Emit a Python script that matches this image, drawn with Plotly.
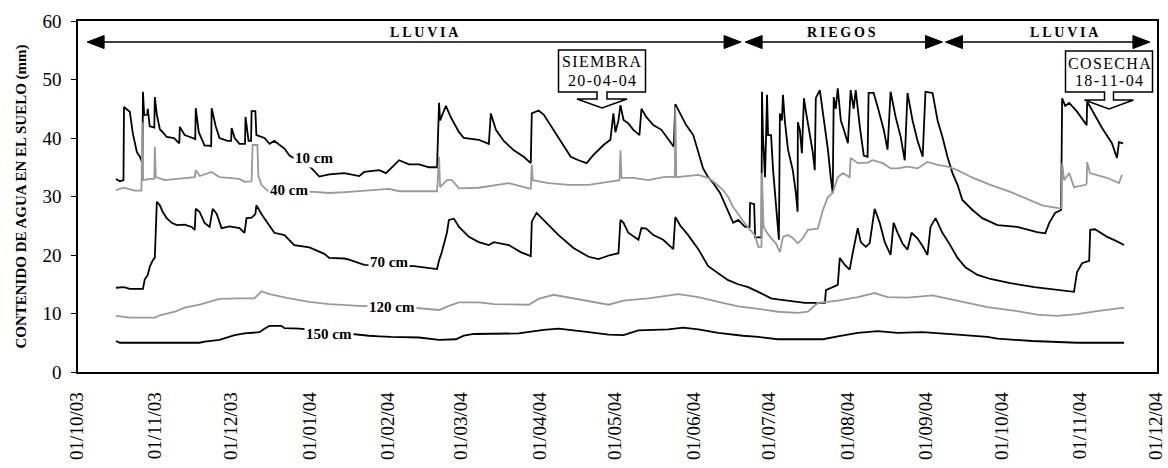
import pandas as pd
import plotly.graph_objects as go

# ---------------- data (days since 2003-10-01, soil water content in mm) ----------------
START = pd.Timestamp("2003-10-01")
END = pd.Timestamp("2004-12-01")

d10_days = [15.0, 16.6, 18.0, 18.2, 20.5, 21.7, 23.3, 24.5, 25.5, 25.7, 26.2, 27.4, 27.6, 28.4, 30.2, 30.4, 31.2,
            32.4, 33.5, 35.1, 38.0, 40.1, 40.3, 42.2, 45.4, 46.4, 46.6, 47.8, 50.1, 52.1, 52.7, 52.9, 54.5, 56.0,
            59.2, 60.6, 60.8, 62.0, 63.9, 66.1, 66.3, 67.5, 68.5, 68.7, 70.2, 70.6, 73.8, 75.8, 77.7, 81.7, 83.7,
            92.3, 95.5, 99.4, 105.4, 111.3, 113.3, 119.2, 121.9, 127.1, 131.0, 135.0, 138.9, 142.1, 142.9, 143.3,
            145.6, 147.6, 150.8, 152.7, 158.6, 162.6, 163.4, 165.4, 168.5, 172.5, 176.4, 179.2, 179.6, 182.3,
            184.3, 188.2, 192.2, 195.0, 198.1, 201.3, 204.0, 208.0, 210.7, 211.9, 212.7, 213.9, 214.7, 215.9,
            217.8, 219.8, 222.2, 223.0, 224.9, 227.7, 230.9, 233.6, 235.8, 236.4, 238.4, 240.7, 243.5, 245.5,
            247.4, 249.4, 251.4, 254.1, 256.5, 258.1, 259.3, 261.3, 264.0, 265.8, 266.0, 267.6, 268.0, 270.5,
            270.7, 271.1, 271.9, 272.3, 272.7, 273.1, 274.3, 275.1, 276.2, 277.0, 277.4, 277.8, 278.6, 279.0,
            279.8, 281.0, 282.9, 284.1, 284.8, 284.9, 285.7, 286.5, 287.3, 288.1, 289.7, 290.8, 291.6, 292.0,
            293.6, 295.2, 296.8, 297.9, 298.7, 299.1, 299.9, 300.7, 301.9, 303.1, 304.7, 305.8, 307.0, 307.8,
            309.4, 311.0, 312.5, 312.9, 314.9, 316.5, 318.9, 320.4, 321.6, 323.6, 325.6, 327.2, 328.3, 330.3,
            332.3, 334.3, 335.4, 338.2, 340.2, 342.1, 344.1, 346.1, 348.1, 350.0, 354.0, 357.9, 363.9, 371.7,
            379.6, 382.8, 384.4, 386.7, 389.1, 389.5, 390.7, 392.3, 393.4, 395.4, 399.2, 399.4, 401.3, 405.3,
            409.2, 411.2, 412.0, 413.6]
d10_vals = [33.0, 32.6, 32.8, 45.3, 44.5, 40.8, 37.6, 36.8, 35.7, 47.9, 43.9, 44.0, 45.0, 42.0, 41.8, 47.0, 44.0,
            41.5, 41.0, 40.2, 40.0, 39.1, 41.9, 40.5, 40.0, 39.8, 45.1, 41.0, 38.7, 38.7, 38.5, 45.1, 42.0, 40.0,
            39.5, 39.5, 41.7, 40.0, 39.0, 39.0, 43.6, 39.5, 39.5, 44.6, 44.6, 40.5, 40.0, 39.0, 39.5, 38.2, 37.0,
            34.9, 33.4, 33.8, 34.0, 33.5, 34.2, 34.5, 34.0, 36.2, 35.5, 35.5, 35.0, 35.0, 46.0, 43.0,
            45.5, 43.5, 41.0, 40.0, 39.7, 39.0, 44.2, 41.4, 39.5, 37.9, 36.8, 35.7, 44.2, 44.7,
            44.0, 41.4, 38.5, 36.8, 36.2, 35.7, 37.1, 38.8, 39.7, 44.2, 41.0, 43.0, 45.6, 43.1,
            42.5, 41.4, 40.5, 45.0, 43.6, 42.2, 41.4, 39.7, 38.5, 45.8, 44.2, 42.2, 40.5, 37.4,
            34.8, 33.3, 32.3, 30.6, 28.2, 26.5, 25.5, 26.0, 24.8, 24.8, 28.9, 28.7, 23.0, 23.0,
            47.9, 40.2, 33.3, 40.0, 47.4, 40.5, 40.5, 34.5, 29.4, 25.5, 22.6, 44.2, 43.0, 47.4,
            42.7, 38.0, 34.5, 30.6, 27.4, 42.7, 41.4, 37.4, 46.8, 44.5, 40.5, 37.6, 34.5, 46.8,
            48.2, 43.0, 38.0, 33.3, 30.6, 47.0, 45.0, 48.5, 43.0, 41.4, 39.1, 48.2, 45.0, 48.2,
            42.0, 37.0, 36.8, 47.7, 47.7, 45.3, 41.4, 38.0, 47.9, 43.6, 40.2, 36.2, 47.7, 43.0,
            39.5, 36.8, 47.9, 47.7, 43.0, 40.2, 36.8, 34.0, 32.0, 29.4, 27.7, 26.3, 25.1, 24.8,
            23.9, 23.7, 25.5, 27.2, 27.7, 46.8, 45.5, 46.0, 45.5, 44.5, 42.2, 46.2, 44.8, 41.7,
            39.1, 36.6, 39.3, 39.1]

d40_days = [15.0, 18.0, 22.5, 25.1, 25.5, 25.8, 28.4, 30.2, 30.4, 30.8, 34.3, 40.3, 46.2, 46.6, 48.2, 52.9, 56.0,
            63.9, 65.9, 68.7, 69.1, 71.0, 71.4, 72.6, 75.0, 93.5, 99.4, 107.3, 115.2, 123.1, 127.1, 142.1, 142.9,
            143.3, 146.0, 148.0, 150.8, 158.6, 170.5, 179.2, 179.6, 180.0, 186.2, 194.2, 202.1, 210.0, 214.3,
            214.7, 215.1, 219.8, 225.7, 231.7, 236.2, 236.4, 236.8, 245.5, 249.4, 252.2, 255.3, 257.3, 259.3,
            261.3, 263.2, 266.0, 268.0, 269.2, 270.5, 270.7, 271.3, 271.9, 273.9, 276.2, 277.8, 279.0, 281.0,
            282.9, 284.9, 286.9, 288.9, 292.8, 294.8, 296.8, 298.7, 300.7, 302.7, 305.4, 305.8, 308.6, 312.5,
            314.5, 318.5, 321.6, 324.4, 328.3, 332.3, 336.2, 340.2, 344.1, 348.1, 353.6, 361.1, 369.0, 375.3,
            381.6, 387.9, 389.3, 389.5, 390.3, 392.3, 394.2, 398.9, 399.2, 399.4, 400.5, 407.2, 412.0, 413.2]
d40_vals = [31.1, 31.5, 31.0, 31.0, 42.7, 32.8, 33.0, 33.0, 38.5, 33.3, 32.8, 33.0, 33.3, 34.5, 33.5, 34.2, 33.3,
            33.0, 32.5, 32.6, 38.8, 38.8, 33.5, 32.0, 31.0, 30.8, 30.6, 30.8, 31.0, 31.3, 30.9, 30.9, 36.8,
            31.6, 32.8, 32.8, 31.4, 31.5, 32.3, 31.3, 35.4, 32.8, 32.3, 32.0, 32.0, 32.5, 32.8,
            37.9, 33.2, 33.2, 32.8, 33.3, 33.4, 45.3, 33.3, 33.7, 33.2, 32.3, 31.1, 29.9, 28.2,
            27.0, 25.8, 24.3, 23.3, 21.4, 21.4, 34.0, 25.0, 24.3, 23.1, 22.0, 20.5, 23.1, 23.4,
            22.9, 22.0, 22.9, 24.3, 24.5, 27.7, 29.9, 30.6, 33.3, 34.0, 33.3, 36.6, 35.7, 35.8,
            36.2, 35.7, 34.8, 34.8, 35.1, 34.8, 35.9, 35.4, 35.1, 34.5, 33.3, 32.0, 30.8, 29.7,
            28.5, 28.0, 28.0, 35.7, 32.8, 34.0, 31.6, 32.0, 32.3, 35.9, 34.0, 33.2, 32.3, 33.7]

d70_days = [15.0, 18.2, 20.5, 25.7, 26.4, 27.6, 28.4, 29.6, 30.4, 30.8, 31.2, 32.4, 33.5, 35.1, 37.1, 39.1, 42.2,
            45.0, 46.2, 46.6, 48.1, 50.1, 52.1, 53.3, 54.9, 56.8, 60.0, 63.9, 65.9, 66.7, 68.7, 70.2, 70.6, 72.6,
            75.0, 77.7, 81.7, 85.6, 91.6, 97.5, 99.4, 105.4, 107.3, 113.3, 133.0, 142.1, 142.9, 144.0, 146.0,
            146.8, 148.8, 150.8, 154.7, 158.6, 162.6, 164.6, 170.5, 175.2, 179.2, 179.6, 181.5, 183.1, 185.5,
            190.2, 196.1, 202.1, 206.0, 210.7, 213.9, 214.7, 215.9, 217.8, 221.8, 223.0, 224.9, 227.7, 231.6,
            235.6, 236.4, 238.4, 241.5, 245.5, 249.4, 253.4, 257.3, 261.3, 265.2, 269.2, 274.3, 277.0, 287.7,
            295.6, 296.0, 300.7, 301.5, 303.5, 305.4, 306.6, 308.6, 309.8, 311.8, 313.3, 315.3, 317.3, 319.3,
            321.6, 322.8, 324.4, 326.4, 328.3, 329.9, 332.3, 334.3, 336.2, 337.4, 339.4, 342.1, 344.9, 348.1,
            351.2, 356.0, 361.1, 369.0, 378.5, 387.5, 394.2, 395.4, 397.4, 400.2, 400.6, 402.5, 407.3, 410.4,
            414.0]
d70_vals = [14.4, 14.5, 14.2, 14.2, 15.8, 16.6, 18.0, 19.1, 19.5, 26.0, 29.1, 28.5, 27.4, 26.3, 25.5, 25.1, 25.2,
            24.8, 24.3, 27.9, 27.4, 25.5, 24.8, 27.9, 27.0, 24.6, 24.9, 24.6, 23.8, 26.3, 26.4, 27.0, 28.5, 27.0,
            25.5, 23.8, 23.4, 21.7, 21.3, 20.2, 19.5, 19.4, 19.2, 18.3, 18.1, 17.6, 19.1, 20.5, 23.8,
            26.0, 26.2, 24.8, 23.1, 22.2, 21.7, 22.2, 21.7, 20.5, 19.8, 25.7, 27.2, 26.5, 25.5,
            23.4, 21.2, 19.7, 19.3, 20.0, 20.3, 26.0, 25.5, 23.8, 22.6, 24.6, 24.5, 23.4, 22.6,
            21.0, 26.5, 25.0, 23.4, 21.0, 18.1, 16.9, 15.7, 15.0, 14.5, 13.7, 12.6, 12.4, 11.8,
            11.8, 14.0, 14.9, 19.5, 18.3, 17.5, 20.3, 24.6, 22.2, 21.4, 22.0, 27.9, 25.5, 22.2,
            20.0, 25.5, 23.8, 21.9, 20.9, 23.8, 22.8, 21.5, 20.0, 24.8, 26.3, 23.8, 21.9, 19.5,
            17.9, 16.6, 15.9, 15.2, 14.5, 14.0, 13.7, 17.1, 18.6, 19.0, 24.3, 24.4, 23.1, 22.5,
            21.7]

d120_days = [15.0, 20.5, 30.4, 32.4, 38.3, 42.2, 48.1, 56.0, 63.9, 69.8, 72.6, 75.8, 83.7, 91.6, 99.4, 111.3,
             135.0, 142.9, 146.8, 150.8, 158.6, 164.6, 178.4, 182.3, 188.2, 192.2, 200.1, 210.0, 215.9, 225.7,
             237.6, 245.5, 253.4, 261.3, 269.2, 277.0, 284.9, 288.9, 292.8, 300.7, 308.6, 315.3, 320.4, 328.3,
             338.2, 348.1, 359.9, 371.7, 379.6, 387.5, 395.4, 403.3, 414.0]
d120_vals = [9.6, 9.3, 9.3, 9.7, 10.3, 11.0, 11.5, 12.5, 12.6, 12.6, 13.8, 13.3, 12.6, 12.0, 11.6, 11.3,
             10.9, 10.6, 11.3, 11.9, 11.9, 11.6, 11.5, 12.5, 13.2, 12.9, 12.2, 11.5, 12.2, 12.6,
             13.3, 12.8, 12.0, 11.2, 10.8, 10.3, 10.1, 10.3, 11.8, 12.2, 12.8, 13.5, 12.8, 12.7,
             13.1, 12.2, 11.1, 10.4, 9.8, 9.6, 9.9, 10.4, 11.0]

d150_days = [15.0, 16.6, 48.1, 50.1, 56.0, 62.0, 65.9, 71.8, 73.8, 75.8, 80.5, 81.7, 87.6, 109.3, 115.2, 119.2,
             123.9, 135.0, 142.9, 149.6, 152.7, 156.7, 174.4, 184.3, 190.2, 202.1, 210.0, 215.9, 221.8, 233.6,
             239.5, 245.5, 253.4, 263.2, 269.2, 277.0, 294.8, 300.7, 308.6, 316.5, 324.4, 334.3, 342.1, 348.1,
             359.9, 363.9, 377.7, 395.4, 414.0]
d150_vals = [5.3, 5.0, 5.0, 5.2, 5.5, 6.3, 6.6, 6.8, 7.4, 7.9, 7.9, 7.5, 7.4, 6.4, 6.2, 6.1,
             6.0, 5.9, 5.5, 5.6, 6.2, 6.5, 6.6, 7.2, 7.4, 6.8, 6.4, 6.3, 7.1, 7.3,
             7.6, 7.3, 6.7, 6.2, 6.0, 5.6, 5.6, 6.1, 6.7, 7.0, 6.7, 6.8, 6.6, 6.4,
             6.0, 5.7, 5.3, 5.0, 5.0]

series_names = ["10 cm", "40 cm", "70 cm", "120 cm", "150 cm"]
series_days = [d10_days, d40_days, d70_days, d120_days, d150_days]
series_vals = [d10_vals, d40_vals, d70_vals, d120_vals, d150_vals]
series_colors = ["#000000", "#999999", "#000000", "#999999", "#000000"]
# label anchor (day, value) for each depth label
label_days = [93.5, 83.7, 123.1, 124.3, 99.4]
label_vals = [36.6, 31.1, 18.8, 11.1, 6.5]

# periods shown at top (start day, end day, label)
period_start = [3.6, 264.0, 343.3]
period_end = [262.4, 342.1, 424.2]
period_label = ["LLUVIA", "RIEGOS", "LLUVIA"]
period_label_center = [137.3, 302.3, 390.3]

# ---------------- layout geometry ----------------
W, H = 1168, 468
PL, PR, PT, PB = 78, 1157, 21, 372
PW, PH = PR - PL, PB - PT
TOTAL_DAYS = (END - START).days
YMAX = 60
FONT = "Liberation Serif, Times New Roman, serif"


def to_dates(days):
    return [START + pd.Timedelta(days=d) for d in days]


def px2paper(px, py):
    return (px - PL) / PW, (PB - py) / PH


def day2paper(d):
    return d / TOTAL_DAYS


def val2paper(v):
    return v / YMAX


def spaced(s, sep="\u200a"):
    return sep.join(list(s))


fig = go.Figure()
for name, dd, vv, col in zip(series_names, series_days, series_vals, series_colors):
    fig.add_trace(go.Scatter(x=to_dates(dd), y=vv, mode="lines", name=name,
                             line=dict(color=col, width=1.8), showlegend=False,
                             hoverinfo="skip"))

annotations = []
shapes = []

# depth labels
for name, ld, lv in zip(series_names, label_days, label_vals):
    annotations.append(dict(x=START + pd.Timedelta(days=ld), y=lv, xref="x", yref="y",
                            xanchor="center", yanchor="middle",
                            text=name, showarrow=False, bgcolor="white", borderpad=1,
                            font=dict(family=FONT, size=15, color="black", weight="bold")))

# period arrows
ARROW_VAL = 56.4
head_len = 17 / PW
head_half = 6.5 / PH
ya = val2paper(ARROW_VAL)
for s, e in zip(period_start, period_end):
    xs, xe = day2paper(s), day2paper(e)
    shapes.append(dict(type="line", xref="paper", yref="paper", x0=xs + head_len * 0.5, x1=xe - head_len * 0.5,
                       y0=ya, y1=ya, line=dict(color="black", width=1.5)))
    shapes.append(dict(type="path", xref="paper", yref="paper",
                       path=f"M {xs},{ya} L {xs + head_len},{ya + head_half} L {xs + head_len},{ya - head_half} Z",
                       fillcolor="black", line=dict(color="black", width=1)))
    shapes.append(dict(type="path", xref="paper", yref="paper",
                       path=f"M {xe},{ya} L {xe - head_len},{ya + head_half} L {xe - head_len},{ya - head_half} Z",
                       fillcolor="black", line=dict(color="black", width=1)))

for c, lab in zip(period_label_center, period_label):
    annotations.append(dict(x=day2paper(c), y=ya, xref="paper", yref="paper", xanchor="center",
                            yanchor="bottom", yshift=0, text=spaced(lab, "\u2009"), showarrow=False,
                            font=dict(family=FONT, size=14, color="black", weight="bold")))


# callout boxes (pixel geometry of the picture)
def callout(cx_tip, y_top, y_box_bot, y_wing, y_tip, half_w, shaft_half, wing_half, lines, text_ys):
    pts = [(cx_tip - half_w, y_top), (cx_tip + half_w, y_top), (cx_tip + half_w, y_box_bot),
           (cx_tip + shaft_half, y_box_bot), (cx_tip + shaft_half, y_wing), (cx_tip + wing_half, y_wing),
           (cx_tip, y_tip), (cx_tip - wing_half, y_wing), (cx_tip - shaft_half, y_wing),
           (cx_tip - shaft_half, y_box_bot), (cx_tip - half_w, y_box_bot)]
    p = [px2paper(a, b) for a, b in pts]
    path = "M " + " L ".join(f"{a},{b}" for a, b in p) + " Z"
    shapes.append(dict(type="path", xref="paper", yref="paper", path=path,
                       fillcolor="white", line=dict(color="black", width=1.5)))
    for t, ty in zip(lines, text_ys):
        x, y = px2paper(cx_tip, ty)
        annotations.append(dict(x=x, y=y, xref="paper", yref="paper", xanchor="center", yanchor="middle",
                                text=spaced(t), showarrow=False,
                                font=dict(family=FONT, size=16, color="black")))


callout(602, 50, 92, 99, 108, 43.5, 5, 25, ["SIEMBRA", "20-04-04"], [62, 80])
callout(1109, 51, 92, 100, 109, 43.5, 4.5, 24.5, ["COSECHA", "18-11-04"], [63, 81])

tick_vals = list(pd.date_range(START, END, freq="MS"))

fig.update_layout(
    width=W, height=H,
    margin=dict(l=PL, r=W - PR, t=PT, b=H - PB, autoexpand=False),
    paper_bgcolor="white", plot_bgcolor="white",
    font=dict(family=FONT, color="black"),
    annotations=annotations, shapes=shapes,
    xaxis=dict(range=[START, END + pd.Timedelta(hours=1)], type="date", tickmode="array",
               tickvals=tick_vals, ticktext=[t.strftime("%d/%m/%y") for t in tick_vals],
               tickangle=-90, tickfont=dict(family=FONT, size=19, color="black"),
               showgrid=False, zeroline=False, showline=True, linecolor="black", linewidth=1.5,
               mirror=True, ticks="", ticklabelstandoff=11, ticklabelshift=-1,
               ticklabeloverflow="allow", automargin=False),
    yaxis=dict(range=[0, YMAX], dtick=10, showgrid=False, zeroline=False, showline=True,
               linecolor="black", linewidth=1.5, mirror=True, ticks="outside", ticklen=5,
               tickcolor="black", tickfont=dict(family=FONT, size=19, color="black"),
               ticklabelstandoff=6, automargin=False,
               title=dict(text="CONTENIDO DE AGUA EN EL SUELO (mm)", standoff=12,
                          font=dict(family=FONT, size=15, color="black", weight="bold"))),
)

fig.write_html("out.html", post_script="document.body.style.margin='0';",
               config={"displayModeBar": False})
